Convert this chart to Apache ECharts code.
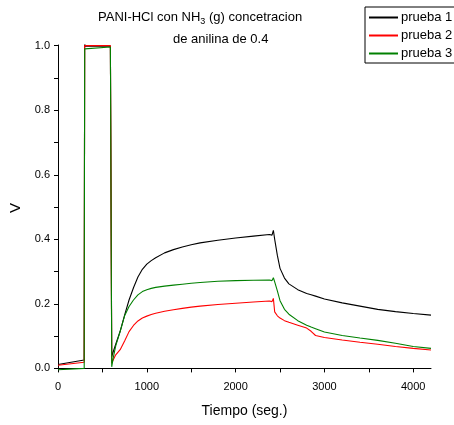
<!DOCTYPE html>
<html>
<head>
<meta charset="utf-8">
<script src="https://cdn.jsdelivr.net/npm/echarts@6/dist/echarts.min.js"></script>
<style>
html,body{margin:0;padding:0;background:#fff;}
#chart{width:454px;height:425px;}
</style>
</head>
<body>
<div id="chart"></div>
<script>
// shared time axis (seg.)
var tiempo = [0, 295, 300, 310, 590, 598, 605, 620, 650, 700, 750, 800, 850, 900, 950, 1000, 1050, 1100, 1200, 1300, 1400, 1500, 1600, 1800, 2000, 2200, 2380, 2410, 2425, 2440, 2470, 2500, 2550, 2600, 2700, 2800, 2850, 2900, 3000, 3200, 3400, 3600, 3800, 4000, 4200];
var prueba1 = [0.012, 0.026, 1.008, 0.998, 0.999, 0.999, 0.036, 0.05, 0.075, 0.115, 0.165, 0.212, 0.25, 0.283, 0.307, 0.323, 0.334, 0.343, 0.358, 0.368, 0.376, 0.383, 0.389, 0.397, 0.404, 0.41, 0.415, 0.413, 0.428, 0.40, 0.35, 0.31, 0.28, 0.262, 0.244, 0.232, 0.228, 0.224, 0.215, 0.203, 0.193, 0.183, 0.176, 0.17, 0.165];
var prueba2 = [0.01, 0.019, 1.0, 0.999, 1.0, 1.006, 0.016, 0.025, 0.042, 0.058, 0.085, 0.114, 0.133, 0.147, 0.156, 0.162, 0.167, 0.171, 0.177, 0.182, 0.186, 0.19, 0.193, 0.198, 0.202, 0.206, 0.209, 0.207, 0.217, 0.175, 0.163, 0.156, 0.148, 0.143, 0.134, 0.125, 0.115, 0.102, 0.096, 0.088, 0.081, 0.075, 0.068, 0.062, 0.057];
var prueba3 = [-0.004, 0.0, 0.99, 0.99, 0.996, 0.996, 0.005, 0.03, 0.07, 0.115, 0.163, 0.192, 0.212, 0.228, 0.238, 0.244, 0.248, 0.251, 0.255, 0.258, 0.261, 0.264, 0.266, 0.27, 0.272, 0.273, 0.274, 0.272, 0.281, 0.268, 0.24, 0.21, 0.183, 0.168, 0.148, 0.134, 0.128, 0.123, 0.113, 0.102, 0.094, 0.087, 0.078, 0.068, 0.062];
var nombres = ['prueba 1', 'prueba 2', 'prueba 3'];
var colores = ['#000000', '#ff0000', '#008000'];
var xLabels = [0, 1000, 2000, 3000, 4000];
var xTicks = [0, 500, 1000, 1500, 2000, 2500, 3000, 3500, 4000];
var yLabels = [0, 0.2, 0.4, 0.6, 0.8, 1.0];
var yTicks = [0, 0.1, 0.2, 0.3, 0.4, 0.5, 0.6, 0.7, 0.8, 0.9, 1.0];

var font = 'Liberation Sans, Arial, sans-serif';
function pares(vals) {
  var out = [];
  for (var i = 0; i < tiempo.length; i++) out.push([tiempo[i], vals[i]]);
  return out;
}
var datos = [prueba1, prueba2, prueba3];
var series = [];
for (var k = 0; k < 3; k++) {
  series.push({
    name: nombres[k],
    type: 'line',
    data: pares(datos[k]),
    symbol: 'none',
    smooth: false,
    lineStyle: { color: colores[k], width: 1.1 },
    itemStyle: { color: colores[k] }
  });
}

var chart = echarts.init(document.getElementById('chart'), null, { renderer: 'canvas' });
chart.setOption({
  animation: false,
  backgroundColor: '#fff',
  title: [
    {
      text: '{a|PANI-HCl con NH}{s|3}{a| (g) concetracion}',
      left: 93, top: 4,
      textStyle: {
        rich: {
          a: { fontFamily: font, fontSize: 13, color: '#000', fontWeight: 'normal' },
          s: { fontFamily: font, fontSize: 9, color: '#000', fontWeight: 'normal', padding: [8, 0, 0, 0] }
        }
      }
    },
    {
      text: 'de anilina de 0.4',
      left: 168, top: 28,
      textStyle: { fontFamily: font, fontSize: 13, color: '#000', fontWeight: 'normal' }
    }
  ],
  legend: {
    orient: 'vertical',
    left: 365, top: 7,
    padding: [4, 4, 3, 3],
    itemWidth: 29, itemHeight: 14, itemGap: 5,
    borderColor: '#000', borderWidth: 1, borderRadius: 0,
    itemStyle: { opacity: 0 },
    textStyle: { fontFamily: font, fontSize: 13, color: '#000', padding: [0, 0, 0, -2] },
    data: nombres
  },
  grid: { left: 58, right: 23, top: 45, bottom: 54, containLabel: false },
  xAxis: {
    type: 'value',
    min: 0, max: 4200,
    name: 'Tiempo (seg.)',
    nameLocation: 'middle',
    nameGap: 33,
    nameTextStyle: { fontFamily: font, fontSize: 14, color: '#000' },
    axisLine: { show: true, lineStyle: { color: '#000', width: 1 } },
    axisTick: { show: true, length: 4, customValues: xTicks, lineStyle: { color: '#000' } },
    axisLabel: {
      customValues: xLabels, fontFamily: font, fontSize: 11, color: '#000', margin: 10,
      formatter: function (v) { return String(v); }
    },
    splitLine: { show: false }
  },
  yAxis: {
    type: 'value',
    min: -0.008, max: 1.002,
    name: 'V',
    nameLocation: 'middle',
    nameGap: 25,
    nameRotate: 90,
    nameTextStyle: { fontFamily: font, fontSize: 15, color: '#000' },
    axisLine: { show: true, lineStyle: { color: '#000', width: 1 } },
    axisTick: { show: true, length: 4, customValues: yTicks, lineStyle: { color: '#000' } },
    axisLabel: {
      customValues: yLabels, fontFamily: font, fontSize: 11, color: '#000', margin: 8,
      formatter: function (v) { return v.toFixed(1); }
    },
    splitLine: { show: false }
  },
  series: series
});
</script>
</body>
</html>
